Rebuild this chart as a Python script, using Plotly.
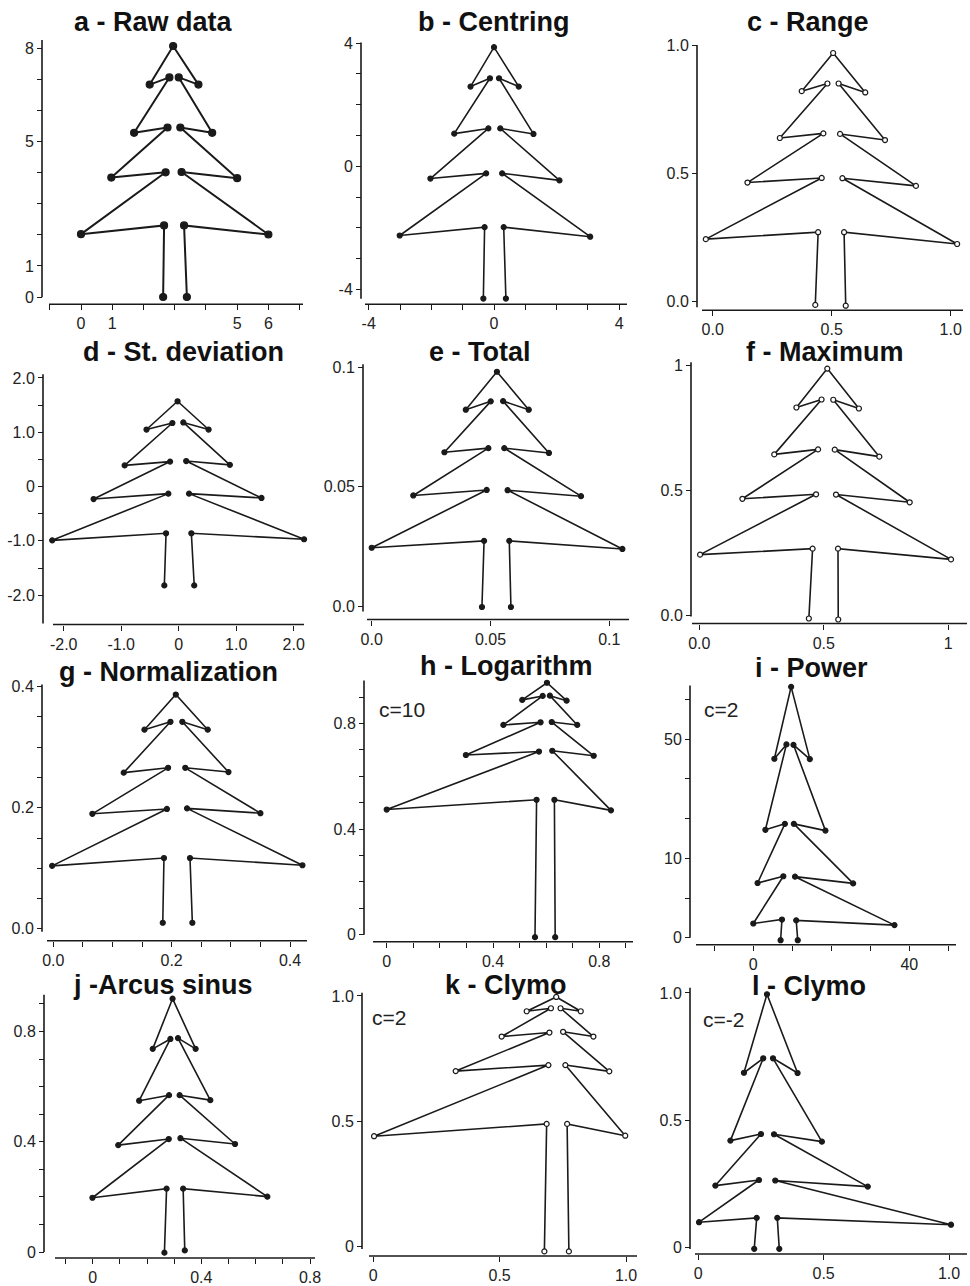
import plotly.graph_objects as go

W, H = 970, 1286

# ---------------- data, vertex order: trunk-left bottom -> top -> trunk-right bottom
a_x = [2.63, 2.66, 0.0, 2.71, 0.97, 2.77, 1.70, 2.83, 2.20, 2.95, 3.76, 3.13, 4.20, 3.18, 5.00, 3.22, 6.00, 3.30, 3.39]
a_y = [0.0, 2.30, 2.02, 4.01, 3.84, 5.45, 5.28, 7.06, 6.83, 8.07, 6.83, 7.06, 5.28, 5.45, 3.82, 4.02, 2.01, 2.30, 0.0]

b_x = [-0.34, -0.30, -3.01, -0.25, -2.03, -0.18, -1.27, -0.13, -0.75, 0.0, 0.79, 0.16, 1.26, 0.20, 2.09, 0.26, 3.07, 0.31, 0.38]
b_y = [-4.30, -1.98, -2.25, -0.23, -0.40, 1.23, 1.06, 2.86, 2.59, 3.87, 2.59, 2.86, 1.05, 1.23, -0.46, -0.23, -2.29, -1.98, -4.30]

c_x = [0.431, 0.443, -0.029, 0.458, 0.146, 0.465, 0.282, 0.482, 0.374, 0.506, 0.641, 0.529, 0.724, 0.535, 0.854, 0.545, 1.027, 0.552, 0.559]
c_y = [-0.013, 0.271, 0.244, 0.483, 0.465, 0.657, 0.639, 0.852, 0.822, 0.971, 0.817, 0.852, 0.631, 0.655, 0.452, 0.482, 0.225, 0.271, -0.016]

d_x = [-0.25, -0.22, -2.20, -0.18, -1.48, -0.15, -0.94, -0.11, -0.56, -0.02, 0.52, 0.08, 0.89, 0.13, 1.44, 0.18, 2.18, 0.22, 0.27]
d_y = [-1.82, -0.86, -0.99, -0.13, -0.23, 0.46, 0.39, 1.17, 1.05, 1.57, 1.05, 1.18, 0.40, 0.47, -0.21, -0.13, -0.97, -0.86, -1.82]

e_x = [0.0464, 0.0473, 0.0, 0.0484, 0.0175, 0.0491, 0.0306, 0.0501, 0.0396, 0.0527, 0.0661, 0.0553, 0.0746, 0.0558, 0.0881, 0.0572, 0.1055, 0.0579, 0.0586]
e_y = [-0.0003, 0.0274, 0.0245, 0.0487, 0.0464, 0.0662, 0.0645, 0.0858, 0.0823, 0.0982, 0.0823, 0.0859, 0.0642, 0.0662, 0.0461, 0.0486, 0.0240, 0.0274, -0.0003]

f_x = [0.440, 0.455, 0.003, 0.469, 0.173, 0.477, 0.301, 0.491, 0.390, 0.514, 0.641, 0.538, 0.723, 0.544, 0.845, 0.549, 1.011, 0.557, 0.558]
f_y = [-0.013, 0.267, 0.243, 0.485, 0.467, 0.665, 0.645, 0.865, 0.833, 0.989, 0.829, 0.864, 0.636, 0.664, 0.453, 0.484, 0.224, 0.267, -0.017]

g_x = [0.185, 0.187, -0.002, 0.192, 0.066, 0.194, 0.119, 0.198, 0.154, 0.207, 0.261, 0.218, 0.296, 0.223, 0.350, 0.226, 0.421, 0.231, 0.235]
g_y = [0.010, 0.117, 0.104, 0.198, 0.190, 0.266, 0.258, 0.342, 0.329, 0.387, 0.329, 0.342, 0.259, 0.266, 0.191, 0.199, 0.105, 0.117, 0.010]

h_x = [0.558, 0.564, 0.0, 0.573, 0.298, 0.579, 0.439, 0.587, 0.510, 0.603, 0.677, 0.614, 0.717, 0.621, 0.779, 0.623, 0.844, 0.631, 0.634]
h_y = [-0.010, 0.511, 0.474, 0.694, 0.681, 0.805, 0.795, 0.905, 0.890, 0.955, 0.887, 0.906, 0.795, 0.806, 0.678, 0.697, 0.471, 0.511, -0.010]

i_x = [7.0, 7.35, 0.0, 7.7, 1.1, 8.1, 3.1, 8.5, 5.4, 9.7, 14.5, 10.3, 18.5, 10.4, 25.6, 10.7, 36.2, 11.0, 11.4]
i_y = [-0.6, 4.6, 3.6, 15.5, 13.8, 28.7, 27.2, 48.7, 45.1, 63.2, 45.0, 48.6, 27.0, 28.7, 13.7, 15.4, 3.2, 4.4, -0.6]

j_x = [0.264, 0.272, -0.001, 0.280, 0.094, 0.281, 0.171, 0.286, 0.221, 0.294, 0.379, 0.314, 0.433, 0.320, 0.524, 0.323, 0.643, 0.333, 0.339]
j_y = [-0.002, 0.230, 0.197, 0.410, 0.388, 0.569, 0.549, 0.773, 0.737, 0.919, 0.737, 0.776, 0.551, 0.569, 0.392, 0.413, 0.201, 0.230, 0.006]

k_x = [0.677, 0.686, 0.003, 0.693, 0.326, 0.697, 0.508, 0.703, 0.607, 0.724, 0.821, 0.741, 0.871, 0.751, 0.934, 0.760, 0.997, 0.767, 0.774]
k_y = [-0.020, 0.489, 0.440, 0.724, 0.700, 0.854, 0.838, 0.951, 0.939, 0.996, 0.939, 0.951, 0.838, 0.857, 0.699, 0.724, 0.442, 0.489, -0.020]

l_x = [0.223, 0.233, 0.003, 0.242, 0.068, 0.250, 0.128, 0.259, 0.182, 0.274, 0.396, 0.298, 0.493, 0.302, 0.676, 0.307, 1.008, 0.315, 0.323]
l_y = [-0.007, 0.115, 0.098, 0.264, 0.242, 0.445, 0.419, 0.743, 0.686, 0.995, 0.685, 0.743, 0.415, 0.444, 0.238, 0.262, 0.088, 0.115, -0.007]

# ---------------- titles, notes and ticks
titles = ["a - Raw data", "b - Centring", "c - Range",
          "d - St. deviation", "e - Total", "f - Maximum",
          "g - Normalization", "h - Logarithm", "i - Power",
          "j -Arcus sinus", "k - Clymo", "l - Clymo"]
notes = {"h": "c=10", "i": "c=2", "k": "c=2", "l": "c=-2"}

a_xtv = [-1, 0, 1, 2, 3, 4, 5, 6, 7]; a_xtt = ["", "0", "1", "", "", "", "5", "6", ""]
a_ytv = [0, 1, 2, 3, 4, 5, 6, 7, 8];  a_ytt = ["0", "1", "", "", "", "5", "", "", "8"]
b_xtv = [-4, -3, -2, -1, 0, 1, 2, 3, 4]; b_xtt = ["-4", "", "", "", "0", "", "", "", "4"]
b_ytv = [-4, -3, -2, -1, 0, 1, 2, 3, 4]; b_ytt = ["-4", "", "", "", "0", "", "", "", "4"]
c_xtv = [0, 0.5, 1]; c_xtt = ["0.0", "0.5", "1.0"]
c_ytv = [0, 0.5, 1]; c_ytt = ["0.0", "0.5", "1.0"]
d_xtv = [-2, -1, 0, 1, 2]; d_xtt = ["-2.0", "-1.0", "0", "1.0", "2.0"]
d_ytv = [-2, -1.5, -1, -0.5, 0, 0.5, 1, 1.5, 2]; d_ytt = ["-2.0", "", "-1.0", "", "0", "", "1.0", "", "2.0"]
e_xtv = [0, 0.05, 0.1]; e_xtt = ["0.0", "0.05", "0.1"]
e_ytv = [0, 0.05, 0.1]; e_ytt = ["0.0", "0.05", "0.1"]
f_xtv = [0, 0.5, 1]; f_xtt = ["0.0", "0.5", "1"]
f_ytv = [0, 0.5, 1]; f_ytt = ["0.0", "0.5", "1"]
g_xtv = [0, 0.05, 0.1, 0.15, 0.2, 0.25, 0.3, 0.35, 0.4]; g_xtt = ["0.0", "", "", "", "0.2", "", "", "", "0.4"]
g_ytv = [0, 0.05, 0.1, 0.15, 0.2, 0.25, 0.3, 0.35, 0.4]; g_ytt = ["0.0", "", "", "", "0.2", "", "", "", "0.4"]
h_xtv = [0, 0.1, 0.2, 0.3, 0.4, 0.5, 0.6, 0.7, 0.8, 0.9]; h_xtt = ["0", "", "", "", "0.4", "", "", "", "0.8", ""]
h_ytv = [0, 0.1, 0.2, 0.3, 0.4, 0.5, 0.6, 0.7, 0.8, 0.9]; h_ytt = ["0", "", "", "", "0.4", "", "", "", "0.8", ""]
i_xtv = [-10, 0, 10, 20, 30, 40, 50]; i_xtt = ["", "0", "", "", "", "40", ""]
i_ytv = [0, 10, 20, 30, 40, 50, 60]; i_ytt = ["0", "", "10", "", "", "50", ""]
j_xtv = [-0.1, 0, 0.1, 0.2, 0.3, 0.4, 0.5, 0.6, 0.7, 0.8]; j_xtt = ["", "0", "", "", "", "0.4", "", "", "", "0.8"]
j_ytv = [0, 0.1, 0.2, 0.3, 0.4, 0.5, 0.6, 0.7, 0.8, 0.9]; j_ytt = ["0", "", "", "", "0.4", "", "", "", "0.8", ""]
k_xtv = [0, 0.5, 1]; k_xtt = ["0", "0.5", "1.0"]
k_ytv = [0, 0.5, 1]; k_ytt = ["0", "0.5", "1.0"]
l_xtv = [0, 0.5, 1]; l_xtt = ["0", "0.5", "1.0"]
l_ytv = [0, 0.5, 1]; l_ytt = ["0", "0.5", "1.0"]

# ---------------- layout geometry (pixels)
# xcal/ycal: two (value, pixel) calibration pairs; xline: (x0, x1, y); yline: (x, ytop, ybottom)
geom = {
    "a": dict(xcal=((0, 81.0), (6, 268.4)), ycal=((0, 297.7), (8, 48.3)), xline=(49, 303, 305), yline=(42, 40, 298),
              title=(153, 22), note=None, open=False, big=True),
    "b": dict(xcal=((0, 494.0), (4, 619.3)), ycal=((-4, 290.0), (4, 43.3)), xline=(365, 627, 305), yline=(361, 42.5, 299.5),
              title=(494, 22), note=None, open=False, big=False),
    "c": dict(xcal=((0, 712.7), (1, 950.7)), ycal=((0, 302.3), (1, 45.7)), xline=(702, 963, 311), yline=(697, 45, 308),
              title=(808, 22), note=None, open=True, big=False),
    "d": dict(xcal=((0, 178.7), (2, 293.7)), ycal=((0, 487.7), (2, 378.8)), xline=(53, 304, 626), yline=(43, 375, 625),
              title=(183, 353), note=None, open=False, big=False),
    "e": dict(xcal=((0, 371.7), (0.1, 609.3)), ycal=((0, 607.7), (0.1, 368.3)), xline=(367, 629, 621), yline=(363, 365, 613),
              title=(480, 353), note=None, open=False, big=False),
    "f": dict(xcal=((0, 699.3), (1, 948.3)), ycal=((0, 616.7), (1, 366.7)), xline=(692, 967, 625), yline=(691, 363, 618),
              title=(825, 353), note=None, open=True, big=False),
    "g": dict(xcal=((0, 53.3), (0.4, 290.0)), ycal=((0, 931.0), (0.4, 688.3)), xline=(47, 307, 943), yline=(42, 686, 934),
              title=(168, 674), note=None, open=False, big=False),
    "h": dict(xcal=((0, 386.7), (0.8, 599.3)), ycal=((0, 936.7), (0.8, 725.3)), xline=(373, 633, 944), yline=(364, 682, 937),
              title=(506, 668), note=(402, 711), open=False, big=False),
    "i": dict(xcal=((0, 753.3), (40, 909.3)), ycal=((0, 940.0), (50, 741.0)), xline=(696, 956, 947), yline=(690, 687, 940),
              title=(811, 670), note=(721, 711), open=False, big=False),
    "j": dict(xcal=((0, 92.7), (0.8, 310.0)), ycal=((0, 1255.0), (0.8, 1033.9)), xline=(55, 315, 1261), yline=(44, 997, 1255),
              title=(163, 987), note=None, open=False, big=False),
    "k": dict(xcal=((0, 373.3), (1, 626.0)), ycal=((0, 1249.3), (1, 998.3)), xline=(369, 637, 1259), yline=(362, 995, 1252),
              title=(506, 987), note=(389, 1020), open=True, big=False),
    "l": dict(xcal=((0, 698.3), (1, 949.0)), ycal=((0, 1250.0), (1, 995.3)), xline=(695, 967, 1257), yline=(690, 990, 1252),
              title=(809, 988), note=(723, 1022), open=False, big=False),
}

data = {
    "a": (a_x, a_y, a_xtv, a_xtt, a_ytv, a_ytt), "b": (b_x, b_y, b_xtv, b_xtt, b_ytv, b_ytt),
    "c": (c_x, c_y, c_xtv, c_xtt, c_ytv, c_ytt), "d": (d_x, d_y, d_xtv, d_xtt, d_ytv, d_ytt),
    "e": (e_x, e_y, e_xtv, e_xtt, e_ytv, e_ytt), "f": (f_x, f_y, f_xtv, f_xtt, f_ytv, f_ytt),
    "g": (g_x, g_y, g_xtv, g_xtt, g_ytv, g_ytt), "h": (h_x, h_y, h_xtv, h_xtt, h_ytv, h_ytt),
    "i": (i_x, i_y, i_xtv, i_xtt, i_ytv, i_ytt), "j": (j_x, j_y, j_xtv, j_xtt, j_ytv, j_ytt),
    "k": (k_x, k_y, k_xtv, k_xtt, k_ytv, k_ytt), "l": (l_x, l_y, l_xtv, l_xtt, l_ytv, l_ytt),
}


def lin(cal, p):
    (v1, p1), (v2, p2) = cal
    return v1 + (p - p1) * (v2 - v1) / (p2 - p1)


INK = "#1a1a1a"
TXT = "#222222"
FONT = "Liberation Sans, Arial, Helvetica, sans-serif"
PAD = 14  # px of plotting room around the drawn axis lines

fig = go.Figure()
layout = dict(width=W, height=H, margin=dict(l=0, r=0, t=0, b=0, pad=0),
              paper_bgcolor="white", plot_bgcolor="rgba(0,0,0,0)", showlegend=False,
              font=dict(family=FONT, color=TXT))
annotations = []
shapes = []

for idx, key in enumerate("abcdefghijkl"):
    G = geom[key]
    xs, ys, xtv, xtt, ytv, ytt = data[key]
    n = "" if idx == 0 else str(idx + 1)
    x0, x1, xly = G["xline"]
    ylx, yt, yb = G["yline"]
    # plotting area slightly larger than the axis lines so no marker is dropped
    dx0, dx1 = max(0.0, x0 - PAD), min(float(W), x1 + PAD)
    dyt, dyb = max(0.0, yt - PAD), min(float(H), yb + PAD)
    xr = [lin(G["xcal"], dx0), lin(G["xcal"], dx1)]
    yr = [lin(G["ycal"], dyb), lin(G["ycal"], dyt)]
    axis_common = dict(showline=False, ticks="outside", ticklen=5,
                       tickwidth=1.2, tickcolor=INK, showgrid=False, zeroline=False,
                       tickmode="array", tickfont=dict(family=FONT, size=16, color=TXT),
                       fixedrange=True)
    layout["xaxis" + n] = dict(axis_common, domain=[dx0 / W, dx1 / W], range=xr, anchor="free",
                               position=1 - xly / H, tickvals=xtv, ticktext=xtt)
    layout["yaxis" + n] = dict(axis_common, domain=[1 - dyb / H, 1 - dyt / H], range=yr, anchor="free",
                               position=ylx / W, tickvals=ytv, ticktext=ytt)
    # detached axis lines (R-style): x line and y line do not meet
    shapes.append(dict(type="line", xref="paper", yref="paper", x0=x0 / W, x1=x1 / W,
                       y0=1 - xly / H, y1=1 - xly / H, line=dict(color=INK, width=1.6)))
    shapes.append(dict(type="line", xref="paper", yref="paper", x0=ylx / W, x1=ylx / W,
                       y0=1 - yb / H, y1=1 - yt / H, line=dict(color=INK, width=1.6)))
    msize = 7 if G["big"] else 5
    mfill = "white" if G["open"] else INK
    fig.add_trace(go.Scatter(
        x=xs, y=ys, mode="lines+markers", xaxis="x" + n, yaxis="y" + n, cliponaxis=False,
        line=dict(color=INK, width=2.0 if G["big"] else 1.6),
        marker=dict(size=msize, color=mfill, line=dict(color=INK, width=1.2)),
        hoverinfo="x+y"))
    tx, ty = G["title"]
    annotations.append(dict(text="<b>" + titles[idx] + "</b>", x=tx / W, y=1 - ty / H, xref="paper", yref="paper",
                            xanchor="center", yanchor="middle", showarrow=False,
                            font=dict(family=FONT, size=27, color="#111111")))
    if G["note"] is not None:
        nx, ny = G["note"]
        annotations.append(dict(text=notes[key], x=nx / W, y=1 - ny / H, xref="paper", yref="paper",
                                xanchor="center", yanchor="middle", showarrow=False,
                                font=dict(family=FONT, size=21, color=TXT)))

layout["annotations"] = annotations
layout["shapes"] = shapes
fig.update_layout(**layout)
fig.write_html("out.html")
